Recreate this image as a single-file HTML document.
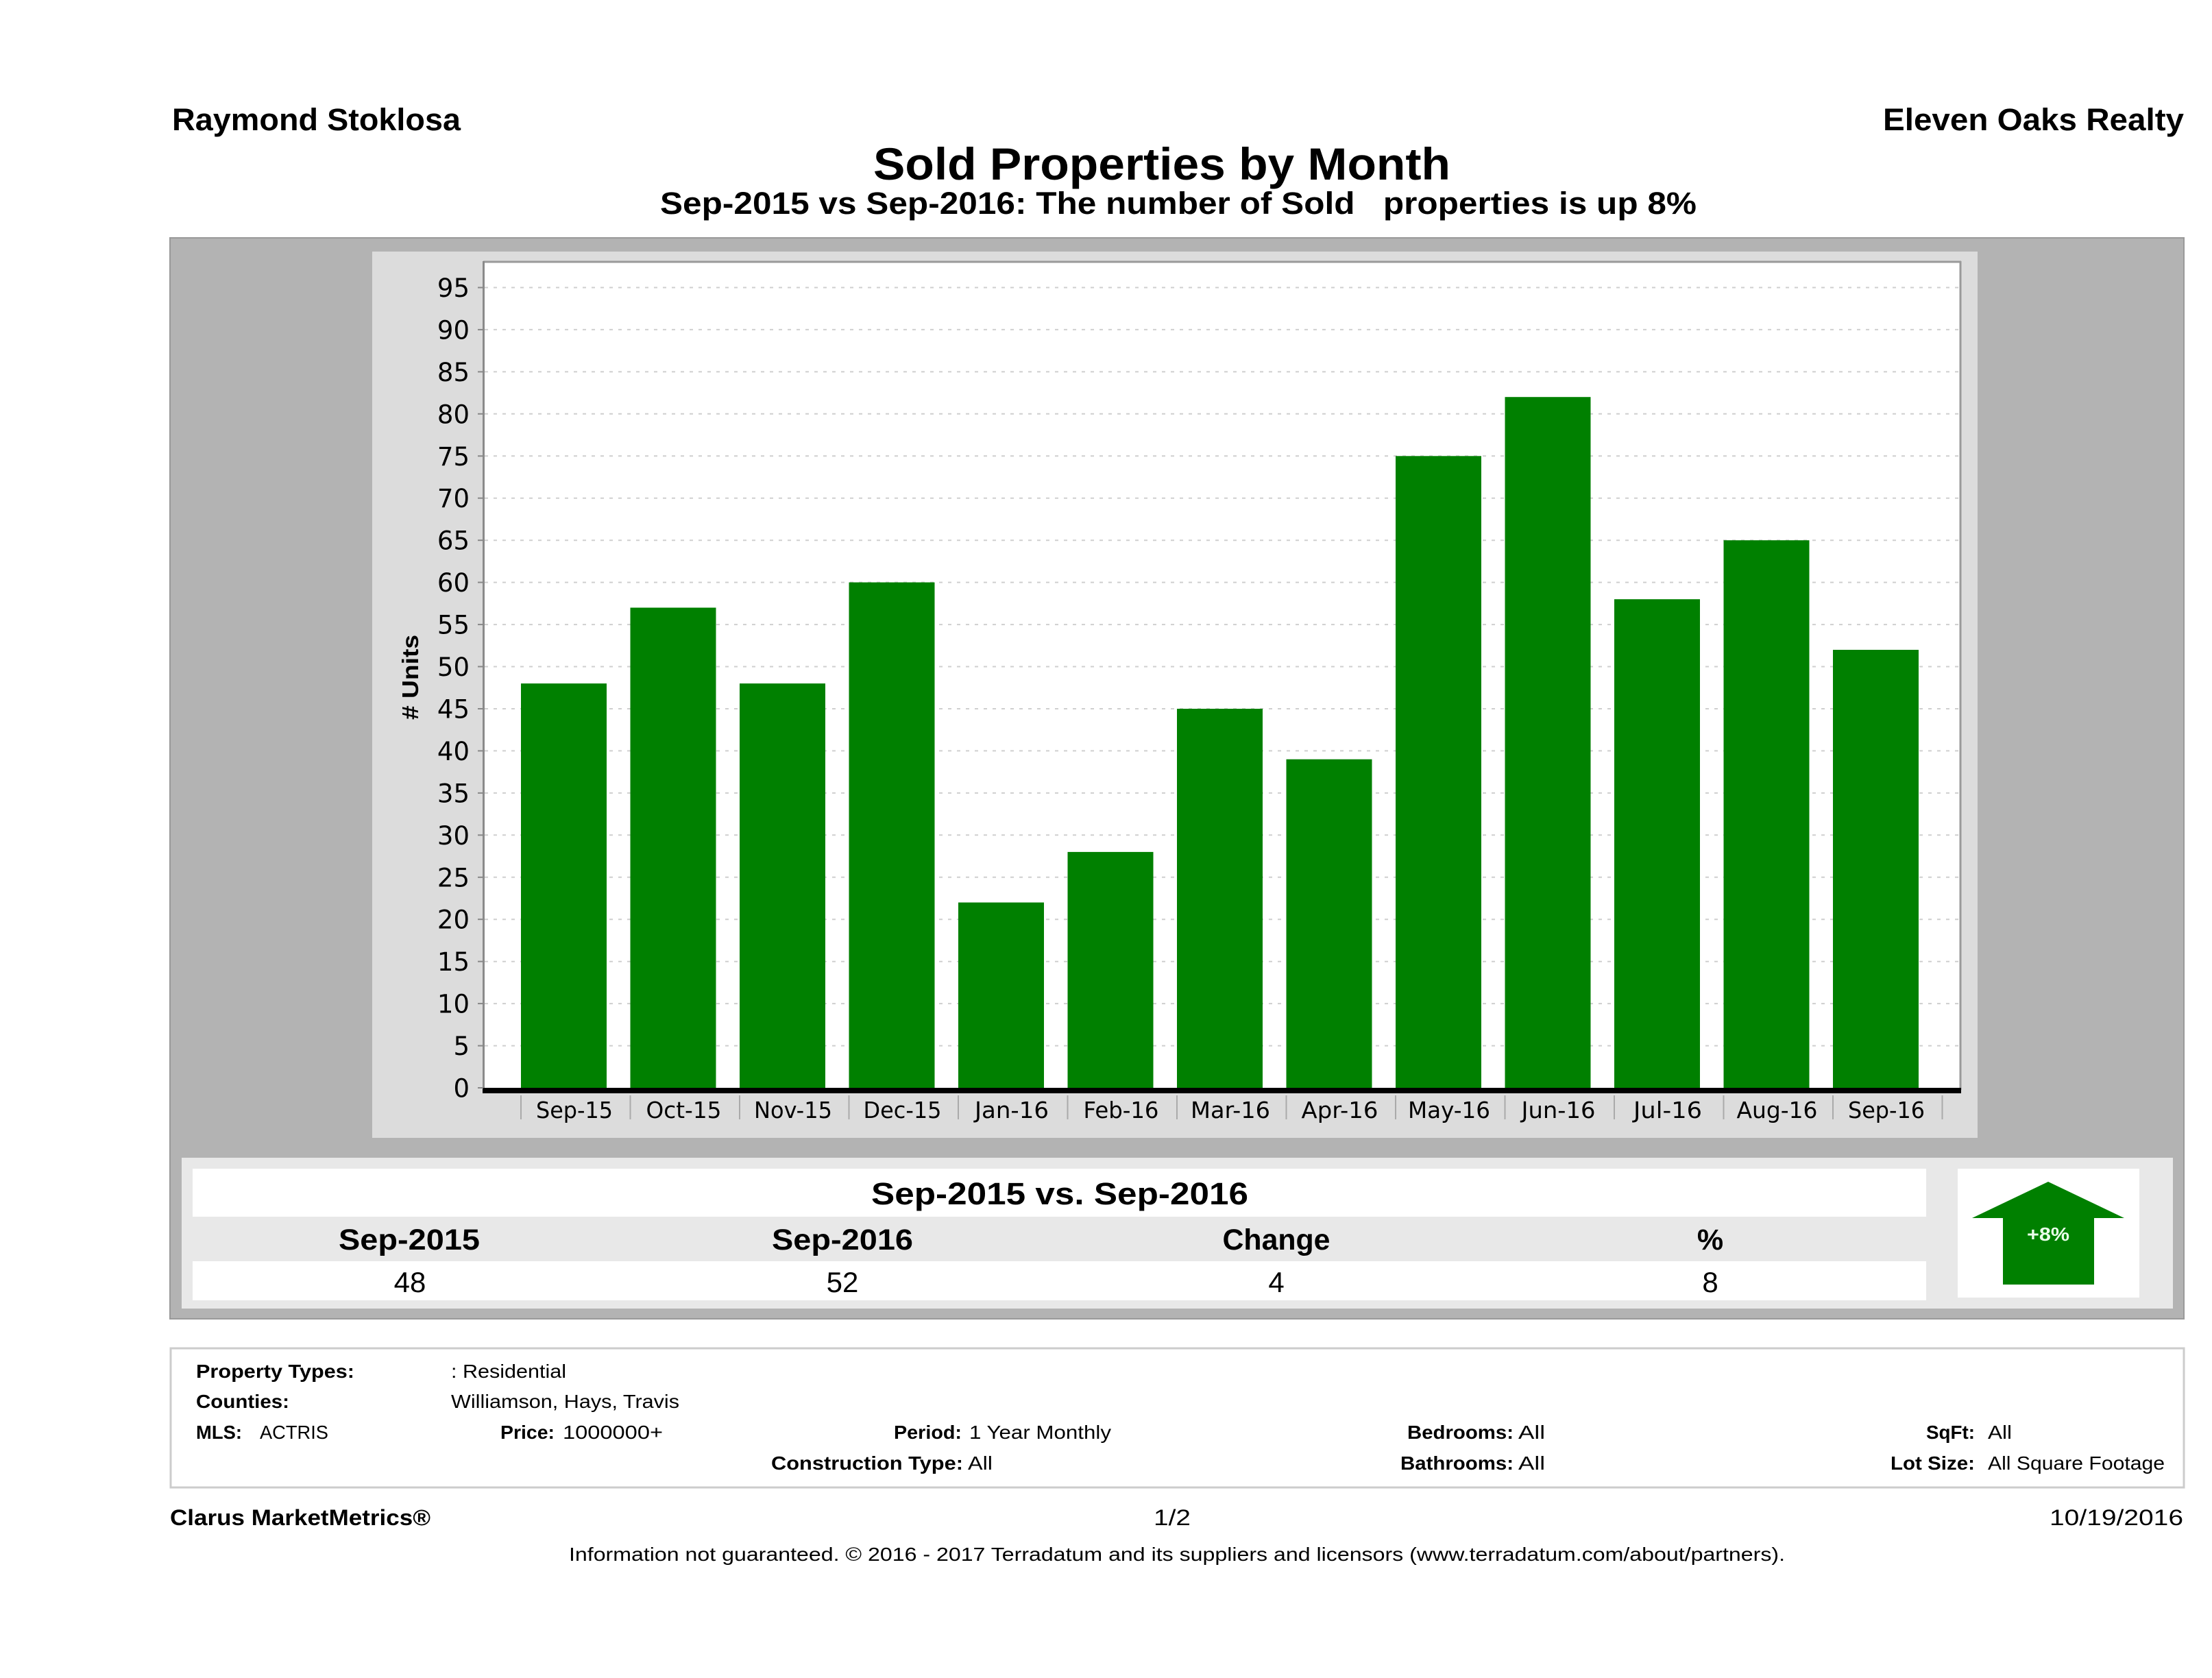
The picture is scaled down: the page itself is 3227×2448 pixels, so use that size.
<!DOCTYPE html>
<html>
<head>
<meta charset="utf-8">
<style>
html,body{margin:0;padding:0;background:#fff;}
svg{display:block;}
text{font-family:"Liberation Sans",Arial,sans-serif;fill:#000;}
.dv{font-family:"DejaVu Sans","Liberation Sans",sans-serif;}
</style>
</head>
<body>
<svg width="3227" height="2448" viewBox="0 0 3227 2448" xmlns="http://www.w3.org/2000/svg">
<rect x="0" y="0" width="3227" height="2448" fill="#fff"/>

<!-- Header -->
<text x="251" y="190" font-size="45" font-weight="bold" textLength="421" lengthAdjust="spacingAndGlyphs">Raymond Stoklosa</text>
<text x="2747" y="190" font-size="45" font-weight="bold" textLength="439" lengthAdjust="spacingAndGlyphs">Eleven Oaks Realty</text>
<text x="1274" y="262" font-size="66" font-weight="bold" textLength="842" lengthAdjust="spacingAndGlyphs">Sold Properties by Month</text>
<text x="963" y="312" font-size="45" font-weight="bold" textLength="1512" lengthAdjust="spacingAndGlyphs" style="white-space:pre">Sep-2015 vs Sep-2016: The number of Sold   properties is up 8%</text>

<!-- Outer gray box -->
<rect x="248" y="347" width="2938" height="1577" fill="#b3b3b3" stroke="#999" stroke-width="2"/>
<!-- Chart panel -->
<rect x="543" y="367" width="2342" height="1293" fill="#dcdcdc"/>
<!-- Plot area -->
<rect x="705" y="381" width="2155" height="1206" fill="#fff"/>

<!-- Gridlines -->
<g stroke="#cfcfcf" stroke-width="2" stroke-dasharray="5,8">
<line x1="707" y1="1525.6" x2="2858" y2="1525.6"/>
<line x1="707" y1="1464.1" x2="2858" y2="1464.1"/>
<line x1="707" y1="1402.7" x2="2858" y2="1402.7"/>
<line x1="707" y1="1341.2" x2="2858" y2="1341.2"/>
<line x1="707" y1="1279.8" x2="2858" y2="1279.8"/>
<line x1="707" y1="1218.3" x2="2858" y2="1218.3"/>
<line x1="707" y1="1156.9" x2="2858" y2="1156.9"/>
<line x1="707" y1="1095.4" x2="2858" y2="1095.4"/>
<line x1="707" y1="1034" x2="2858" y2="1034"/>
<line x1="707" y1="972.5" x2="2858" y2="972.5"/>
<line x1="707" y1="911.1" x2="2858" y2="911.1"/>
<line x1="707" y1="849.6" x2="2858" y2="849.6"/>
<line x1="707" y1="788.2" x2="2858" y2="788.2"/>
<line x1="707" y1="726.7" x2="2858" y2="726.7"/>
<line x1="707" y1="665.3" x2="2858" y2="665.3"/>
<line x1="707" y1="603.8" x2="2858" y2="603.8"/>
<line x1="707" y1="542.4" x2="2858" y2="542.4"/>
<line x1="707" y1="480.9" x2="2858" y2="480.9"/>
<line x1="707" y1="419.5" x2="2858" y2="419.5"/>
</g>

<!-- Plot border -->
<line x1="705" y1="382" x2="2861" y2="382" stroke="#9a9a9a" stroke-width="3"/>
<line x1="2860" y1="381" x2="2860" y2="1590" stroke="#9a9a9a" stroke-width="3"/>
<line x1="705.5" y1="381" x2="705.5" y2="1590" stroke="#8a8a8a" stroke-width="3"/>

<!-- Bars -->
<g fill="#008000">
<rect x="760" y="997.1" width="125" height="589.9"/>
<rect x="919.5" y="886.5" width="125" height="700.5"/>
<rect x="1079" y="997.1" width="125" height="589.9"/>
<rect x="1238.5" y="849.6" width="125" height="737.4"/>
<rect x="1398" y="1316.6" width="125" height="270.4"/>
<rect x="1557.5" y="1242.9" width="125" height="344.1"/>
<rect x="1717" y="1034" width="125" height="553"/>
<rect x="1876.5" y="1107.7" width="125" height="479.3"/>
<rect x="2036" y="665.3" width="125" height="921.7"/>
<rect x="2195.5" y="579.2" width="125" height="1007.8"/>
<rect x="2355" y="874.2" width="125" height="712.8"/>
<rect x="2514.5" y="788.2" width="125" height="798.8"/>
<rect x="2674" y="948" width="125" height="639"/>
</g>

<!-- X axis line -->
<rect x="704" y="1587" width="2157" height="8" fill="#000"/>

<!-- Y tick marks -->
<g stroke="#888" stroke-width="2">
<line x1="697" y1="1587" x2="705" y2="1587"/>
<line x1="697" y1="1525.6" x2="705" y2="1525.6"/>
<line x1="697" y1="1464.1" x2="705" y2="1464.1"/>
<line x1="697" y1="1402.7" x2="705" y2="1402.7"/>
<line x1="697" y1="1341.2" x2="705" y2="1341.2"/>
<line x1="697" y1="1279.8" x2="705" y2="1279.8"/>
<line x1="697" y1="1218.3" x2="705" y2="1218.3"/>
<line x1="697" y1="1156.9" x2="705" y2="1156.9"/>
<line x1="697" y1="1095.4" x2="705" y2="1095.4"/>
<line x1="697" y1="1034" x2="705" y2="1034"/>
<line x1="697" y1="972.5" x2="705" y2="972.5"/>
<line x1="697" y1="911.1" x2="705" y2="911.1"/>
<line x1="697" y1="849.6" x2="705" y2="849.6"/>
<line x1="697" y1="788.2" x2="705" y2="788.2"/>
<line x1="697" y1="726.7" x2="705" y2="726.7"/>
<line x1="697" y1="665.3" x2="705" y2="665.3"/>
<line x1="697" y1="603.8" x2="705" y2="603.8"/>
<line x1="697" y1="542.4" x2="705" y2="542.4"/>
<line x1="697" y1="480.9" x2="705" y2="480.9"/>
<line x1="697" y1="419.5" x2="705" y2="419.5"/>
</g>

<!-- Y tick labels -->
<g class="dv" font-size="37" text-anchor="end" fill="#222">
<text class="dv" x="685" y="1600.5">0</text>
<text class="dv" x="685" y="1539.1">5</text>
<text class="dv" x="685" y="1477.6">10</text>
<text class="dv" x="685" y="1416.2">15</text>
<text class="dv" x="685" y="1354.7">20</text>
<text class="dv" x="685" y="1293.3">25</text>
<text class="dv" x="685" y="1231.8">30</text>
<text class="dv" x="685" y="1170.4">35</text>
<text class="dv" x="685" y="1108.9">40</text>
<text class="dv" x="685" y="1047.5">45</text>
<text class="dv" x="685" y="986">50</text>
<text class="dv" x="685" y="924.6">55</text>
<text class="dv" x="685" y="863.1">60</text>
<text class="dv" x="685" y="801.7">65</text>
<text class="dv" x="685" y="740.2">70</text>
<text class="dv" x="685" y="678.8">75</text>
<text class="dv" x="685" y="617.3">80</text>
<text class="dv" x="685" y="555.9">85</text>
<text class="dv" x="685" y="494.4">90</text>
<text class="dv" x="685" y="433">95</text>
</g>

<!-- Y axis title -->
<text x="0" y="0" font-size="33" font-weight="bold" text-anchor="middle" textLength="124" lengthAdjust="spacingAndGlyphs" transform="translate(610,988) rotate(-90)">#  Units</text>

<!-- X separators -->
<g stroke="#aaa" stroke-width="2">
<line x1="760" y1="1598" x2="760" y2="1633"/>
<line x1="919.5" y1="1598" x2="919.5" y2="1633"/>
<line x1="1079" y1="1598" x2="1079" y2="1633"/>
<line x1="1238.5" y1="1598" x2="1238.5" y2="1633"/>
<line x1="1398" y1="1598" x2="1398" y2="1633"/>
<line x1="1557.5" y1="1598" x2="1557.5" y2="1633"/>
<line x1="1717" y1="1598" x2="1717" y2="1633"/>
<line x1="1876.5" y1="1598" x2="1876.5" y2="1633"/>
<line x1="2036" y1="1598" x2="2036" y2="1633"/>
<line x1="2195.5" y1="1598" x2="2195.5" y2="1633"/>
<line x1="2355" y1="1598" x2="2355" y2="1633"/>
<line x1="2514.5" y1="1598" x2="2514.5" y2="1633"/>
<line x1="2674" y1="1598" x2="2674" y2="1633"/>
<line x1="2833.5" y1="1598" x2="2833.5" y2="1633"/>
</g>

<!-- X labels -->
<g font-size="33" text-anchor="middle" fill="#222">
<text class="dv" x="838" y="1631" textLength="112" lengthAdjust="spacingAndGlyphs">Sep-15</text>
<text class="dv" x="997.5" y="1631" textLength="110" lengthAdjust="spacingAndGlyphs">Oct-15</text>
<text class="dv" x="1157" y="1631" textLength="114" lengthAdjust="spacingAndGlyphs">Nov-15</text>
<text class="dv" x="1316.5" y="1631" textLength="114" lengthAdjust="spacingAndGlyphs">Dec-15</text>
<text class="dv" x="1476" y="1631" textLength="108" lengthAdjust="spacingAndGlyphs">Jan-16</text>
<text class="dv" x="1635.5" y="1631" textLength="110" lengthAdjust="spacingAndGlyphs">Feb-16</text>
<text class="dv" x="1795" y="1631" textLength="116" lengthAdjust="spacingAndGlyphs">Mar-16</text>
<text class="dv" x="1954.5" y="1631" textLength="112" lengthAdjust="spacingAndGlyphs">Apr-16</text>
<text class="dv" x="2114" y="1631" textLength="120" lengthAdjust="spacingAndGlyphs">May-16</text>
<text class="dv" x="2273.5" y="1631" textLength="108" lengthAdjust="spacingAndGlyphs">Jun-16</text>
<text class="dv" x="2433" y="1631" textLength="100" lengthAdjust="spacingAndGlyphs">Jul-16</text>
<text class="dv" x="2592.5" y="1631" textLength="118" lengthAdjust="spacingAndGlyphs">Aug-16</text>
<text class="dv" x="2752" y="1631" textLength="112" lengthAdjust="spacingAndGlyphs">Sep-16</text>
</g>

<!-- Summary table -->
<rect x="265" y="1689" width="2905" height="220" fill="#e8e8e8"/>
<rect x="281" y="1705" width="2529" height="70" fill="#fff"/>
<rect x="281" y="1775" width="2529" height="65" fill="#e8e8e8"/>
<rect x="281" y="1840" width="2529" height="57" fill="#fff"/>
<text x="1271" y="1757" font-size="45" font-weight="bold" textLength="550" lengthAdjust="spacingAndGlyphs">Sep-2015 vs. Sep-2016</text>
<g font-size="43" font-weight="bold" text-anchor="middle">
<text x="597" y="1823" textLength="206" lengthAdjust="spacingAndGlyphs">Sep-2015</text>
<text x="1229" y="1823" textLength="206" lengthAdjust="spacingAndGlyphs">Sep-2016</text>
<text x="1862" y="1823" textLength="157" lengthAdjust="spacingAndGlyphs">Change</text>
<text x="2495" y="1823">%</text>
</g>
<g font-size="42" text-anchor="middle">
<text x="598" y="1885">48</text>
<text x="1229" y="1885">52</text>
<text x="1862" y="1885">4</text>
<text x="2495" y="1885">8</text>
</g>

<!-- Arrow box -->
<rect x="2856" y="1705" width="265" height="188" fill="#fff"/>
<polygon points="2988,1724 3099,1777 3055,1777 3055,1874 2922,1874 2922,1777 2877,1777" fill="#008000"/>
<text x="2988" y="1810" font-size="28" font-weight="bold" text-anchor="middle" fill="#eaffea" style="fill:#eaffea" textLength="62" lengthAdjust="spacingAndGlyphs">+8%</text>

<!-- Info box -->
<rect x="249" y="1967" width="2937" height="203" fill="#fff" stroke="#cccccc" stroke-width="3"/>
<g font-size="28">
<text x="286" y="2010" font-weight="bold" textLength="231" lengthAdjust="spacingAndGlyphs">Property Types:</text>
<text x="658" y="2010" textLength="168" lengthAdjust="spacingAndGlyphs">: Residential</text>
<text x="286" y="2054" font-weight="bold" textLength="136" lengthAdjust="spacingAndGlyphs">Counties:</text>
<text x="658" y="2054" textLength="333" lengthAdjust="spacingAndGlyphs">Williamson, Hays, Travis</text>
<text x="286" y="2099" font-weight="bold" textLength="67" lengthAdjust="spacingAndGlyphs">MLS:</text>
<text x="379" y="2099" textLength="100" lengthAdjust="spacingAndGlyphs">ACTRIS</text>
<text x="730" y="2099" font-weight="bold" textLength="79" lengthAdjust="spacingAndGlyphs">Price:</text>
<text x="821" y="2099" textLength="146" lengthAdjust="spacingAndGlyphs">1000000+</text>
<text x="1304" y="2099" font-weight="bold" textLength="99" lengthAdjust="spacingAndGlyphs">Period:</text>
<text x="1414" y="2099" textLength="207" lengthAdjust="spacingAndGlyphs">1 Year Monthly</text>
<text x="2053" y="2099" font-weight="bold" textLength="155" lengthAdjust="spacingAndGlyphs">Bedrooms:</text>
<text x="2215" y="2099" textLength="39" lengthAdjust="spacingAndGlyphs">All</text>
<text x="2810" y="2099" font-weight="bold" textLength="71" lengthAdjust="spacingAndGlyphs">SqFt:</text>
<text x="2900" y="2099" textLength="35" lengthAdjust="spacingAndGlyphs">All</text>
<text x="1125" y="2144" font-weight="bold" textLength="280" lengthAdjust="spacingAndGlyphs">Construction Type:</text>
<text x="1412" y="2144" textLength="36" lengthAdjust="spacingAndGlyphs">All</text>
<text x="2043" y="2144" font-weight="bold" textLength="165" lengthAdjust="spacingAndGlyphs">Bathrooms:</text>
<text x="2215" y="2144" textLength="39" lengthAdjust="spacingAndGlyphs">All</text>
<text x="2758" y="2144" font-weight="bold" textLength="123" lengthAdjust="spacingAndGlyphs">Lot Size:</text>
<text x="2900" y="2144" textLength="258" lengthAdjust="spacingAndGlyphs">All Square Footage</text>
</g>

<!-- Footer -->
<text x="248" y="2225" font-size="32" font-weight="bold" textLength="380" lengthAdjust="spacingAndGlyphs">Clarus MarketMetrics®</text>
<text x="1683" y="2225" font-size="32" textLength="54" lengthAdjust="spacingAndGlyphs">1/2</text>
<text x="2990" y="2225" font-size="32" textLength="195" lengthAdjust="spacingAndGlyphs">10/19/2016</text>
<text x="830" y="2277" font-size="28" textLength="1774" lengthAdjust="spacingAndGlyphs">Information not guaranteed. © 2016 - 2017 Terradatum and its suppliers and licensors (www.terradatum.com/about/partners).</text>
</svg>
</body>
</html>
